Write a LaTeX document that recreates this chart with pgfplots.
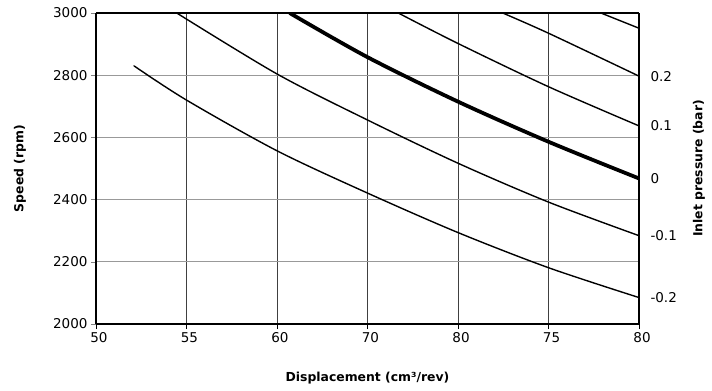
\documentclass[border=0pt]{standalone}
\usepackage{fontspec}
\setmainfont{DejaVu Sans}
\usepackage{pgfplots}
\pgfplotsset{compat=1.18}
\tikzset{thin curve/.style={black, line width=1.4pt, smooth, line cap=round, line join=round}}
\begin{document}
\begin{tikzpicture}
\begin{axis}[
  at={(0,0)}, anchor=south west,
  scale only axis, width=543bp, height=311bp,
  xmin=50, xmax=80, ymin=2000, ymax=3000,
  xtick={50,55,60,65,70,75,80},
  xticklabels={50,55,60,70,80,75,80},
  ytick={2000,2200,2400,2600,2800,3000},
  /pgf/number format/assume math mode=true,
  /pgf/number format/set thousands separator={},
  tick label style={font=\fontsize{13.5bp}{16bp}\selectfont},
  xticklabel style={xshift=3bp},
  xlabel={Displacement (cm³/rev)},
  ylabel={Speed (rpm)},
  xlabel style={font=\fontsize{12.4bp}{14bp}\selectfont\bfseries, at={(axis description cs:0.5,-0.1736)}, anchor=center},
  ylabel style={font=\fontsize{12.4bp}{14bp}\selectfont\bfseries, at={(axis description cs:-0.14,0.5)}, anchor=center},
  axis line style={line width=2.6pt},
  axis y line*=left, axis x line*=bottom,
  tick align=outside,
  major tick length=5bp,
  tick style={gray, line width=0.6pt},
  xtick style={black, line width=0.6pt},
  xmajorgrids, ymajorgrids,
  x grid style={black!75, line width=0.6pt},
  y grid style={black!40, line width=0.8pt},
  clip=true,
]
\addplot[thin curve] coordinates {(52.1,2830) (55,2720) (60,2557) (65,2421) (70,2294) (75,2181) (80,2085)};
\addplot[thin curve] coordinates {(54.46,3000) (60,2804) (65,2656) (70,2517) (75,2392) (80,2284)};
\addplot[black, line width=3.8pt, smooth] coordinates {(60.7,3000) (65,2858) (70,2715) (75,2586) (80,2468)};
\addplot[thin curve] coordinates {(66.7,3000) (70,2902) (75,2763) (80,2637)};
\addplot[thin curve] coordinates {(72.47,3000) (75,2935) (80,2797)};
\addplot[thin curve] coordinates {(77.9,3000) (80,2951)};
\end{axis}
\begin{axis}[
  at={(0,0)}, anchor=south west,
  scale only axis, width=543bp, height=311bp,
  xmin=50, xmax=80, ymin=2000, ymax=3000,
  axis x line=none,
  axis y line*=right,
  axis line style={line width=2.6pt},
  ytick={2085,2284,2468,2637,2797},
  yticklabels={-0.2,-0.1,0,0.1,0.2},
  major tick length=0pt,
  yticklabel style={font=\fontsize{13.5bp}{16bp}\selectfont, xshift=8bp},
  ylabel={Inlet pressure (bar)},
  ylabel style={font=\fontsize{12.4bp}{14bp}\selectfont\bfseries, at={(axis description cs:1.1105,0.5)}, anchor=center},
]
\addplot[draw=none] coordinates {(50,2000)};
\end{axis}
\draw[line width=2.6pt] (0,311bp) -- (543bp,311bp);
\pgfresetboundingbox
\path[use as bounding box] (-96bp,-67bp) rectangle (616bp,324bp);
\end{tikzpicture}
\end{document}
